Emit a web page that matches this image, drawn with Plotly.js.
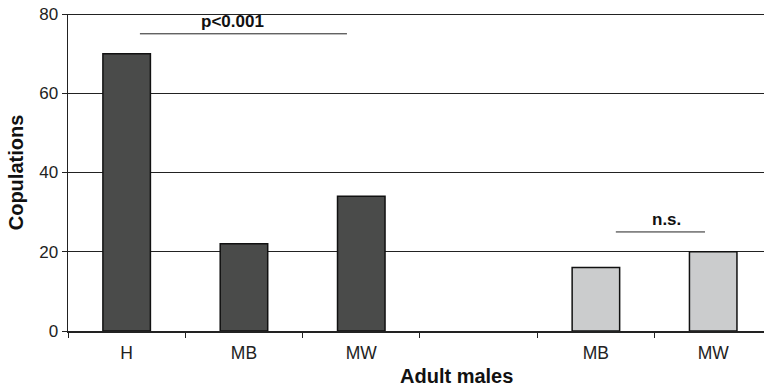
<!DOCTYPE html>
<html>
<head>
<meta charset="utf-8">
<script src="https://cdn.plot.ly/plotly-3.0.1.min.js"></script>
<style>html,body{margin:0;padding:0;background:#fff;}#chart{width:764px;height:389px;}</style>
</head>
<body>
<div id="chart"></div>
<script>
// Data
const positions = [0, 1, 2, 3, 4, 5];
const tickLabels = ["H", "MB", "MW", "", "MB", "MW"];
const groupAPos = [0, 1, 2];
const groupAValues = [70, 22, 34];
const groupBPos = [4, 5];
const groupBValues = [16, 20];
const yTicks = [0, 20, 40, 60, 80];

const boundaries = [-0.5, 0.5, 1.5, 2.5, 3.5, 4.5, 5.5];
const FONT = "'Liberation Sans', Arial, Helvetica, sans-serif";

const traces = [
  {
    type: "bar", x: groupAPos, y: groupAValues, width: 0.405,
    marker: {color: "#4a4b4a", line: {color: "#111", width: 1.5}},
    hoverinfo: "skip", showlegend: false
  },
  {
    type: "bar", x: groupBPos, y: groupBValues, width: 0.405,
    marker: {color: "#cbcccd", line: {color: "#111", width: 1.5}},
    hoverinfo: "skip", showlegend: false
  }
];

const layout = {
  width: 764, height: 389,
  margin: {l: 68, r: 0, t: 14, b: 58},
  paper_bgcolor: "#fff", plot_bgcolor: "#fff",
  font: {family: FONT, color: "#222"},
  xaxis: {
    range: [-0.5, 5.433],
    tickmode: "array", tickvals: positions, ticktext: tickLabels,
    ticks: "", showgrid: false, zeroline: false,
    showline: true, linecolor: "#222", linewidth: 1.5,
    tickfont: {size: 17.5, family: FONT, color: "#222"},
    ticklabelstandoff: 5,
    minor: {tickmode: "array", tickvals: boundaries, ticks: "outside", ticklen: 5, tickcolor: "#222", tickwidth: 1, showgrid: false},
    fixedrange: true
  },
  yaxis: {
    range: [0, 80],
    tickmode: "array", tickvals: yTicks,
    ticks: "outside", ticklen: 5, tickcolor: "#222", tickwidth: 1,
    showgrid: true, gridcolor: "#222", gridwidth: 1,
    zeroline: false, showline: true, linecolor: "#222", linewidth: 1.5,
    tickfont: {size: 17, family: FONT, color: "#222"},
    title: {text: "<b>Copulations</b>", font: {size: 20, family: FONT, color: "#111"}, standoff: 10},
    fixedrange: true
  },
  shapes: [
    {type: "line", xref: "paper", yref: "y", x0: 0, x1: 1, y0: 80, y1: 80, line: {color: "#222", width: 2.2}},
    {type: "line", xref: "x", yref: "y", x0: 0.113, x1: 1.878, y0: 75, y1: 75, line: {color: "#222", width: 1}},
    {type: "line", xref: "x", yref: "y", x0: 4.17, x1: 4.93, y0: 25, y1: 25, line: {color: "#222", width: 1}}
  ],
  annotations: [
    {xref: "x", yref: "y", x: 0.905, y: 75, yanchor: "bottom", yshift: 1, text: "<b>p<0.001</b>", showarrow: false, font: {size: 17, family: FONT, color: "#111"}},
    {xref: "x", yref: "y", x: 4.6, y: 25, yanchor: "bottom", yshift: 1, text: "<b>n.s.</b>", showarrow: false, font: {size: 17, family: FONT, color: "#111"}},
    {xref: "paper", yref: "paper", x: (456.5 - 68) / 696, y: -(376 - 331) / 317, xanchor: "center", yanchor: "middle", text: "<b>Adult males</b>", showarrow: false, font: {size: 20, family: FONT, color: "#111"}}
  ]
};

Plotly.newPlot("chart", traces, layout, {staticPlot: true, displayModeBar: false});
</script>
</body>
</html>
